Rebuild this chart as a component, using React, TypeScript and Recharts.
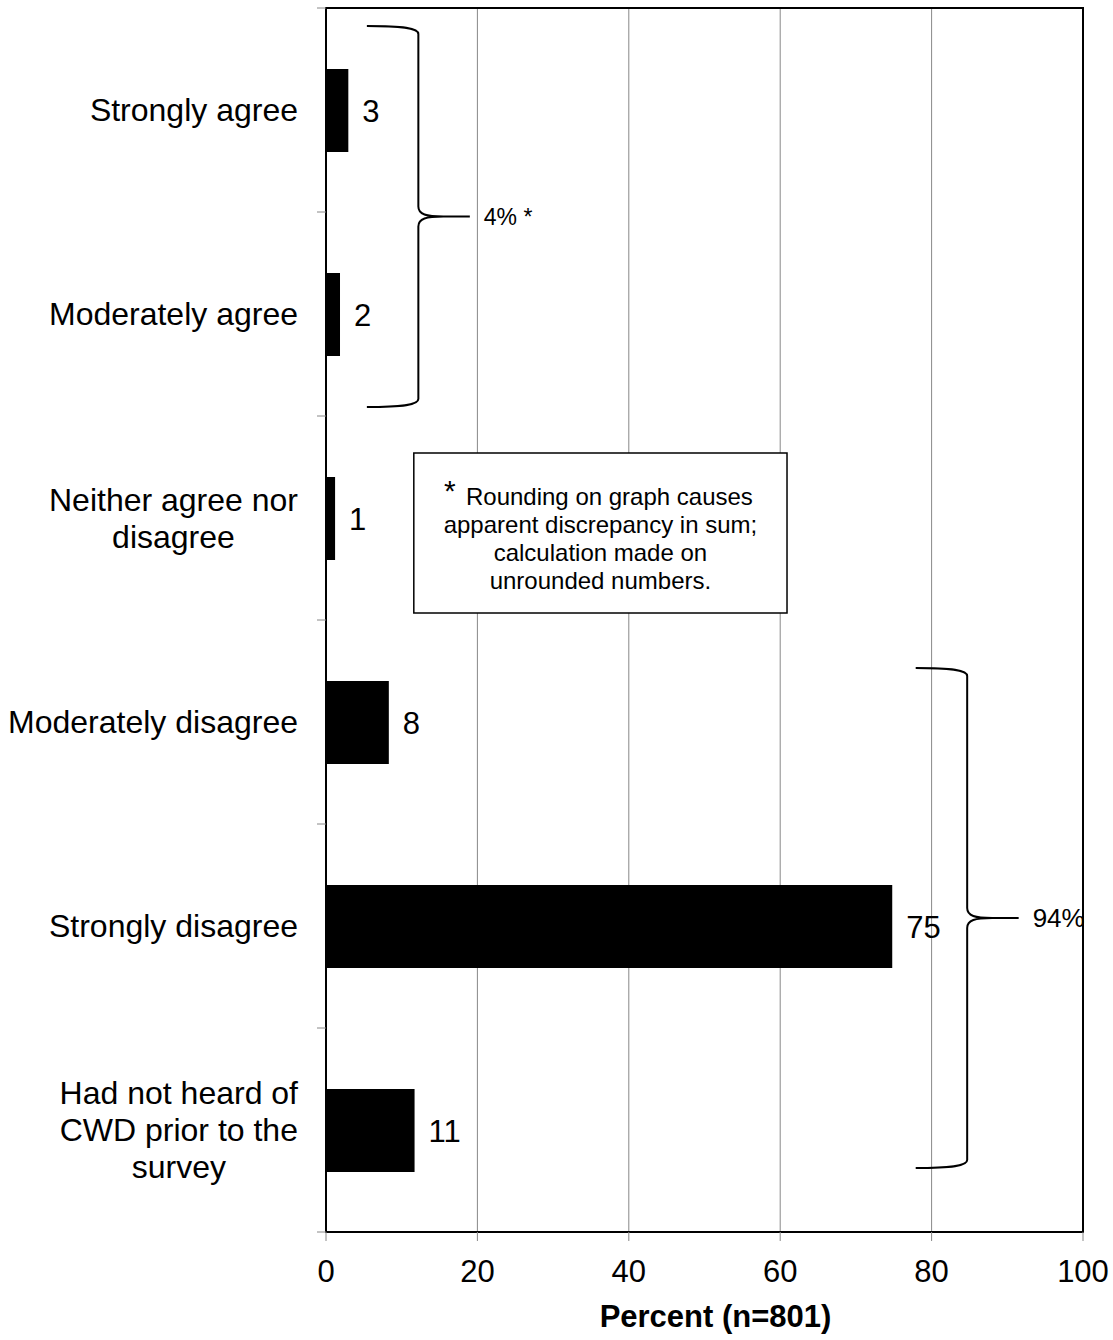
import React from "react";
import {
  Bar,
  BarChart,
  CartesianGrid,
  LabelList,
  ReferenceArea,
  XAxis,
  YAxis,
} from "recharts";

const categories = [
  "Strongly agree",
  "Moderately agree",
  "Neither agree nor\ndisagree",
  "Moderately disagree",
  "Strongly disagree",
  "Had not heard of\nCWD prior to the\nsurvey",
];
const percents = [2.95, 1.85, 1.2, 8.3, 74.8, 11.7];
const printed = [3, 2, 1, 8, 75, 11];
const xTicks = [0, 20, 40, 60, 80, 100];

const noteLines = [
  "Rounding on graph causes",
  "apparent discrepancy in sum;",
  "calculation made on",
  "unrounded numbers.",
];

const data = categories.map((name, i) => ({
  name,
  pct: percents[i],
  shown: printed[i],
}));

const FONT = '"Liberation Sans", Arial, Helvetica, sans-serif';
const W = 1113;
const H = 1340;
const MARGIN = { top: 8, right: 30, bottom: 0, left: 10 };
const X_AXIS_H = 108;
const PLOT_H = H - MARGIN.top - MARGIN.bottom - X_AXIS_H;
const BAND = PLOT_H / categories.length;
const LABEL_GAP = 28;
const TICK_LEN = 9;
const CAT_FS = 32;
const LINE_H = 37;

let ctx: CanvasRenderingContext2D | null = null;
function measure(t: string) {
  if (!ctx && typeof document !== "undefined") {
    ctx = document.createElement("canvas").getContext("2d");
  }
  if (!ctx) return t.length * CAT_FS * 0.5;
  ctx.font = `${CAT_FS}px ${FONT}`;
  return ctx.measureText(t).width;
}

function CategoryTick(props: any) {
  const { x, y, payload, index } = props;
  const lines = String(payload.value).split("\n");
  const maxW = Math.max(...lines.map(measure));
  const cx = x - maxW / 2;
  const top = y - ((lines.length - 1) * LINE_H) / 2;
  const axisX = x + LABEL_GAP;
  const half = BAND / 2;
  return (
    <g>
      <line x1={axisX - TICK_LEN} x2={axisX} y1={y - half} y2={y - half} stroke="#888" />
      {index === categories.length - 1 && (
        <line x1={axisX - TICK_LEN} x2={axisX} y1={y + half} y2={y + half} stroke="#888" />
      )}
      <text textAnchor="middle" fontSize={CAT_FS} fontFamily={FONT} fill="#000">
        {lines.map((l, i) => (
          <tspan key={i} x={cx} y={top + i * LINE_H} dy="0.35em">
            {l}
          </tspan>
        ))}
      </text>
    </g>
  );
}

const braces = [
  {
    from: categories[0],
    to: categories[1],
    x1: 5.4,
    xv: 12.2,
    x2: 19.0,
    insetTop: 18,
    insetBottom: 9,
    text: "4% *",
    fs: 23,
  },
  {
    from: categories[3],
    to: categories[5],
    x1: 77.9,
    xv: 84.7,
    x2: 91.5,
    insetTop: 48,
    insetBottom: 64,
    text: "94%",
    fs: 26,
  },
];

function BraceShape(props: any) {
  const { x, y, width, height, spec } = props;
  const x0 = x;
  const xp = x + width;
  const xv = x0 + ((spec.xv - spec.x1) / (spec.x2 - spec.x1)) * width;
  const yt = y + spec.insetTop;
  const yb = y + height - spec.insetBottom;
  const ym = (yt + yb) / 2;
  const d = [
    `M${x0},${yt}`,
    `C${xv - 15},${yt} ${xv},${yt + 2} ${xv},${yt + 8}`,
    `L${xv},${ym - 10}`,
    `C${xv},${ym - 2} ${xv + 8},${ym} ${xv + 25},${ym}`,
    `L${xp},${ym}`,
    `M${xv + 25},${ym}`,
    `C${xv + 8},${ym} ${xv},${ym + 2} ${xv},${ym + 10}`,
    `L${xv},${yb - 8}`,
    `C${xv},${yb - 2} ${xv - 15},${yb} ${x0},${yb}`,
  ].join(" ");
  return (
    <g>
      <path d={d} fill="none" stroke="#000" strokeWidth={2} />
      <text
        x={xp + 14}
        y={ym}
        dy="0.35em"
        fontSize={spec.fs}
        fontFamily={FONT}
        fill="#000"
      >
        {spec.text}
      </text>
    </g>
  );
}

function NoteBox(props: any) {
  const { x, y, width, height } = props;
  const top = y + 37;
  const h = height - 44;
  const cx = x + width / 2 + 9;
  return (
    <g>
      <rect x={x} y={top} width={width} height={h} fill="#fff" stroke="#000" strokeWidth={1.5} />
      <text x={x + 36} y={top + 48} textAnchor="middle" fontSize={30} fontFamily={FONT} fill="#000">
        *
      </text>
      {noteLines.map((l, i) => (
        <text
          key={i}
          x={i === 0 ? cx : x + width / 2}
          y={top + 52 + i * 28}
          textAnchor="middle"
          fontSize={24}
          fontFamily={FONT}
          fill="#000"
        >
          {l}
        </text>
      ))}
    </g>
  );
}

function AxisTitle(props: any) {
  const vb = props.viewBox || {};
  return (
    <text
      x={vb.x + vb.width / 2 + 11}
      y={vb.y + 95}
      textAnchor="middle"
      fontSize={31}
      fontWeight="bold"
      fontFamily={FONT}
      fill="#000"
    >
      Percent (n=801)
    </text>
  );
}

export default function App() {
  return (
    <div style={{ position: "absolute", left: 0, top: 0, background: "#fff" }}>
      <BarChart
        width={W}
        height={H}
        layout="vertical"
        data={data}
        margin={MARGIN}
      >
        <CartesianGrid horizontal={false} stroke="#888" />
        <XAxis
          type="number"
          domain={[0, 100]}
          ticks={xTicks}
          height={X_AXIS_H}
          tickSize={TICK_LEN}
          tickMargin={19}
          tickLine={{ stroke: "#888" }}
          axisLine={{ stroke: "#000", strokeWidth: 2 }}
          tick={{ fontSize: 31, fill: "#000", fontFamily: FONT }}
          label={(p: any) => <AxisTitle {...p} />}
        />
        <YAxis
          type="category"
          dataKey="name"
          width={316}
          tickSize={0}
          tickMargin={LABEL_GAP}
          tickLine={false}
          axisLine={false}
          interval={0}
          tick={<CategoryTick />}
        />
        <Bar dataKey="pct" fill="#000" barSize={83} isAnimationActive={false}>
          <LabelList
            dataKey="shown"
            position="right"
            offset={14}
            fontSize={31}
            fill="#000"
            fontFamily={FONT}
          />
        </Bar>
        <ReferenceArea
          x1={0}
          x2={100}
          y1={categories[0]}
          y2={categories[categories.length - 1]}
          fill="none"
          stroke="#000"
          strokeWidth={2}
          ifOverflow="visible"
        />
        {braces.map((b, i) => (
          <ReferenceArea
            key={i}
            x1={b.x1}
            x2={b.x2}
            y1={b.from}
            y2={b.to}
            ifOverflow="visible"
            shape={(p: any) => <BraceShape {...p} spec={b} />}
          />
        ))}
        <ReferenceArea
          x1={11.6}
          x2={60.9}
          y1={categories[2]}
          y2={categories[2]}
          ifOverflow="visible"
          shape={(p: any) => <NoteBox {...p} />}
        />
      </BarChart>
    </div>
  );
}
